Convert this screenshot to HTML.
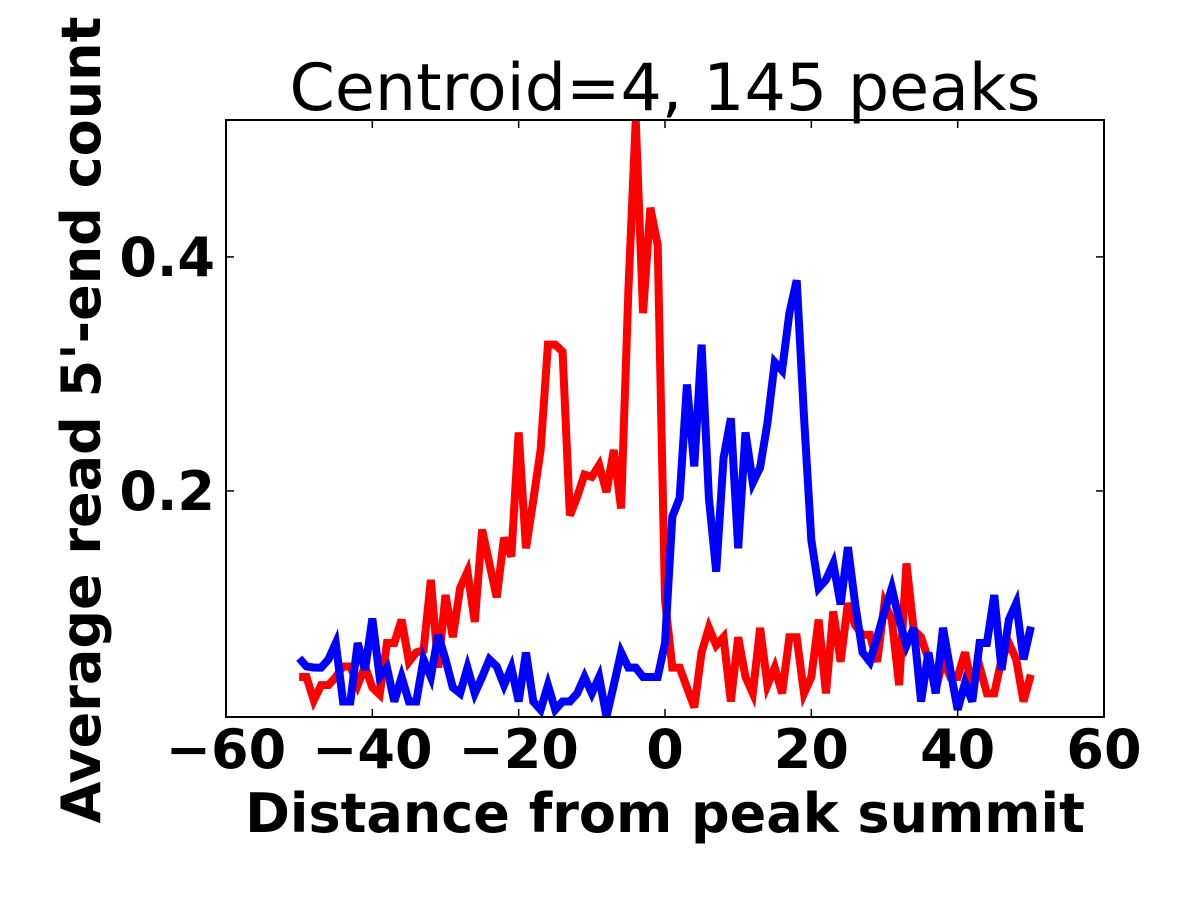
<!DOCTYPE html>
<html><head><meta charset="utf-8"><style>
html,body{margin:0;padding:0;background:#fff;}
svg{display:block;}
</style></head><body>
<svg id="chart" width="1200" height="900" xmlns="http://www.w3.org/2000/svg" font-family="'DejaVu Sans','Liberation Sans',sans-serif">
<rect width="1200" height="900" fill="#fff"/>
<text x="665" y="110" font-size="65" text-anchor="middle">Centroid=4, 145 peaks</text>
<g id="plot"></g>
<rect x="226" y="120" width="878" height="597" fill="none" stroke="#000" stroke-width="2"/>
<g id="ticks"></g>
<text x="665" y="832" font-size="54" font-weight="bold" text-anchor="middle">Distance from peak summit</text>
<text transform="translate(100,420) rotate(-90)" font-size="54" font-weight="bold" text-anchor="middle">Average read 5'-end count</text>
</svg>
<script>
const xs = [];
for (let i = -50; i <= 50; i++) xs.push(i);
const redValues = [0.041,0.041,0.021,0.034,0.034,0.041,0.050,0.050,0.034,0.050,
0.032,0.026,0.070,0.070,0.090,0.054,0.062,0.064,0.124,0.049,
0.111,0.075,0.117,0.131,0.088,0.167,0.138,0.109,0.160,0.144,
0.250,0.151,0.192,0.235,0.325,0.325,0.319,0.179,0.195,0.214,
0.212,0.222,0.199,0.235,0.185,0.372,0.517,0.352,0.442,0.410,
0.107,0.049,0.049,0.032,0.015,0.062,0.083,0.068,0.075,0.020,
0.075,0.041,0.027,0.083,0.034,0.049,0.027,0.075,0.075,0.027,
0.041,0.090,0.027,0.097,0.054,0.104,0.085,0.077,0.077,0.054,
0.104,0.090,0.034,0.138,0.081,0.075,0.056,0.030,0.056,0.041,
0.041,0.062,0.032,0.050,0.027,0.027,0.056,0.070,0.056,0.020,0.043];
const blueValues = [0.057,0.050,0.049,0.049,0.056,0.070,0.020,0.020,0.070,0.047,
0.091,0.041,0.049,0.020,0.041,0.020,0.020,0.056,0.041,0.077,
0.056,0.032,0.027,0.049,0.027,0.041,0.056,0.050,0.034,0.049,
0.020,0.062,0.020,0.013,0.034,0.013,0.020,0.020,0.027,0.041,
0.027,0.041,0.007,0.034,0.062,0.049,0.049,0.041,0.041,0.041,
0.070,0.178,0.194,0.291,0.221,0.325,0.194,0.131,0.228,0.262,
0.151,0.250,0.207,0.220,0.258,0.310,0.303,0.352,0.380,0.263,
0.158,0.117,0.124,0.138,0.103,0.152,0.103,0.062,0.054,0.075,
0.097,0.117,0.090,0.068,0.083,0.020,0.062,0.027,0.083,0.047,
0.013,0.036,0.020,0.070,0.070,0.111,0.047,0.090,0.104,0.056,0.084];
const xTicks = [-60,-40,-20,0,20,40,60];
const xTickLabels = ["\u221260","\u221240","\u221220","0","20","40","60"];
const yTicks = [0.2,0.4];
const yTickLabels = ["0.2","0.4"];

const X0=226,X1=1104,Y0=717,Y1=120;
const xMin=-60,xMax=60,yMin=0.0068,yMax=0.517;
function sx(v){return X0+(v-xMin)/(xMax-xMin)*(X1-X0);}
function sy(v){return Y0-(v-yMin)/(yMax-yMin)*(Y0-Y1);}
const NS="http://www.w3.org/2000/svg";
const plot=document.getElementById('plot');
const ticks=document.getElementById('ticks');
const clip=document.createElementNS(NS,'clipPath');clip.setAttribute('id','clp');
const cr=document.createElementNS(NS,'rect');cr.setAttribute('x',X0);cr.setAttribute('y',Y1);cr.setAttribute('width',X1-X0);cr.setAttribute('height',Y0-Y1);
clip.appendChild(cr);plot.appendChild(clip);
function line(vals,color,name){
  const p=document.createElementNS(NS,'polyline');
  p.setAttribute('points',vals.map((v,i)=>sx(xs[i])+','+sy(v)).join(' '));
  p.setAttribute('fill','none');p.setAttribute('stroke',color);p.setAttribute('stroke-width','8');
  p.setAttribute('stroke-linejoin','miter');p.setAttribute('clip-path','url(#clp)');
  
  
  plot.appendChild(p);
}
line(redValues,'#ff0000','red-series-line');
line(blueValues,'#0000ff','blue-series-line');
xTicks.forEach((t,i)=>{
  const x=sx(t);
  [[Y0,Y0-8],[Y1,Y1+8]].forEach(([a,b])=>{
    const l=document.createElementNS(NS,'line');
    l.setAttribute('x1',x);l.setAttribute('x2',x);l.setAttribute('y1',a);l.setAttribute('y2',b);
    l.setAttribute('stroke','#000');l.setAttribute('stroke-width','1.5');
    
    
    ticks.appendChild(l);
  });
  const tx=document.createElementNS(NS,'text');
  tx.setAttribute('x',x);tx.setAttribute('y',768);tx.setAttribute('font-size','54');tx.setAttribute('font-weight','bold');tx.setAttribute('text-anchor','middle');
  tx.textContent=xTickLabels[i];
  
  
  ticks.appendChild(tx);
});
yTicks.forEach((t,i)=>{
  const y=sy(t);
  [[X0,X0+8],[X1,X1-8]].forEach(([a,b])=>{
    const l=document.createElementNS(NS,'line');
    l.setAttribute('x1',a);l.setAttribute('x2',b);l.setAttribute('y1',y);l.setAttribute('y2',y);
    l.setAttribute('stroke','#000');l.setAttribute('stroke-width','1.5');
    
    
    ticks.appendChild(l);
  });
  const tx=document.createElementNS(NS,'text');
  tx.setAttribute('x',215);tx.setAttribute('y',y+19);tx.setAttribute('font-size','54');tx.setAttribute('font-weight','bold');tx.setAttribute('text-anchor','end');
  tx.textContent=yTickLabels[i];
  
  
  ticks.appendChild(tx);
});
</script>
</body></html>
